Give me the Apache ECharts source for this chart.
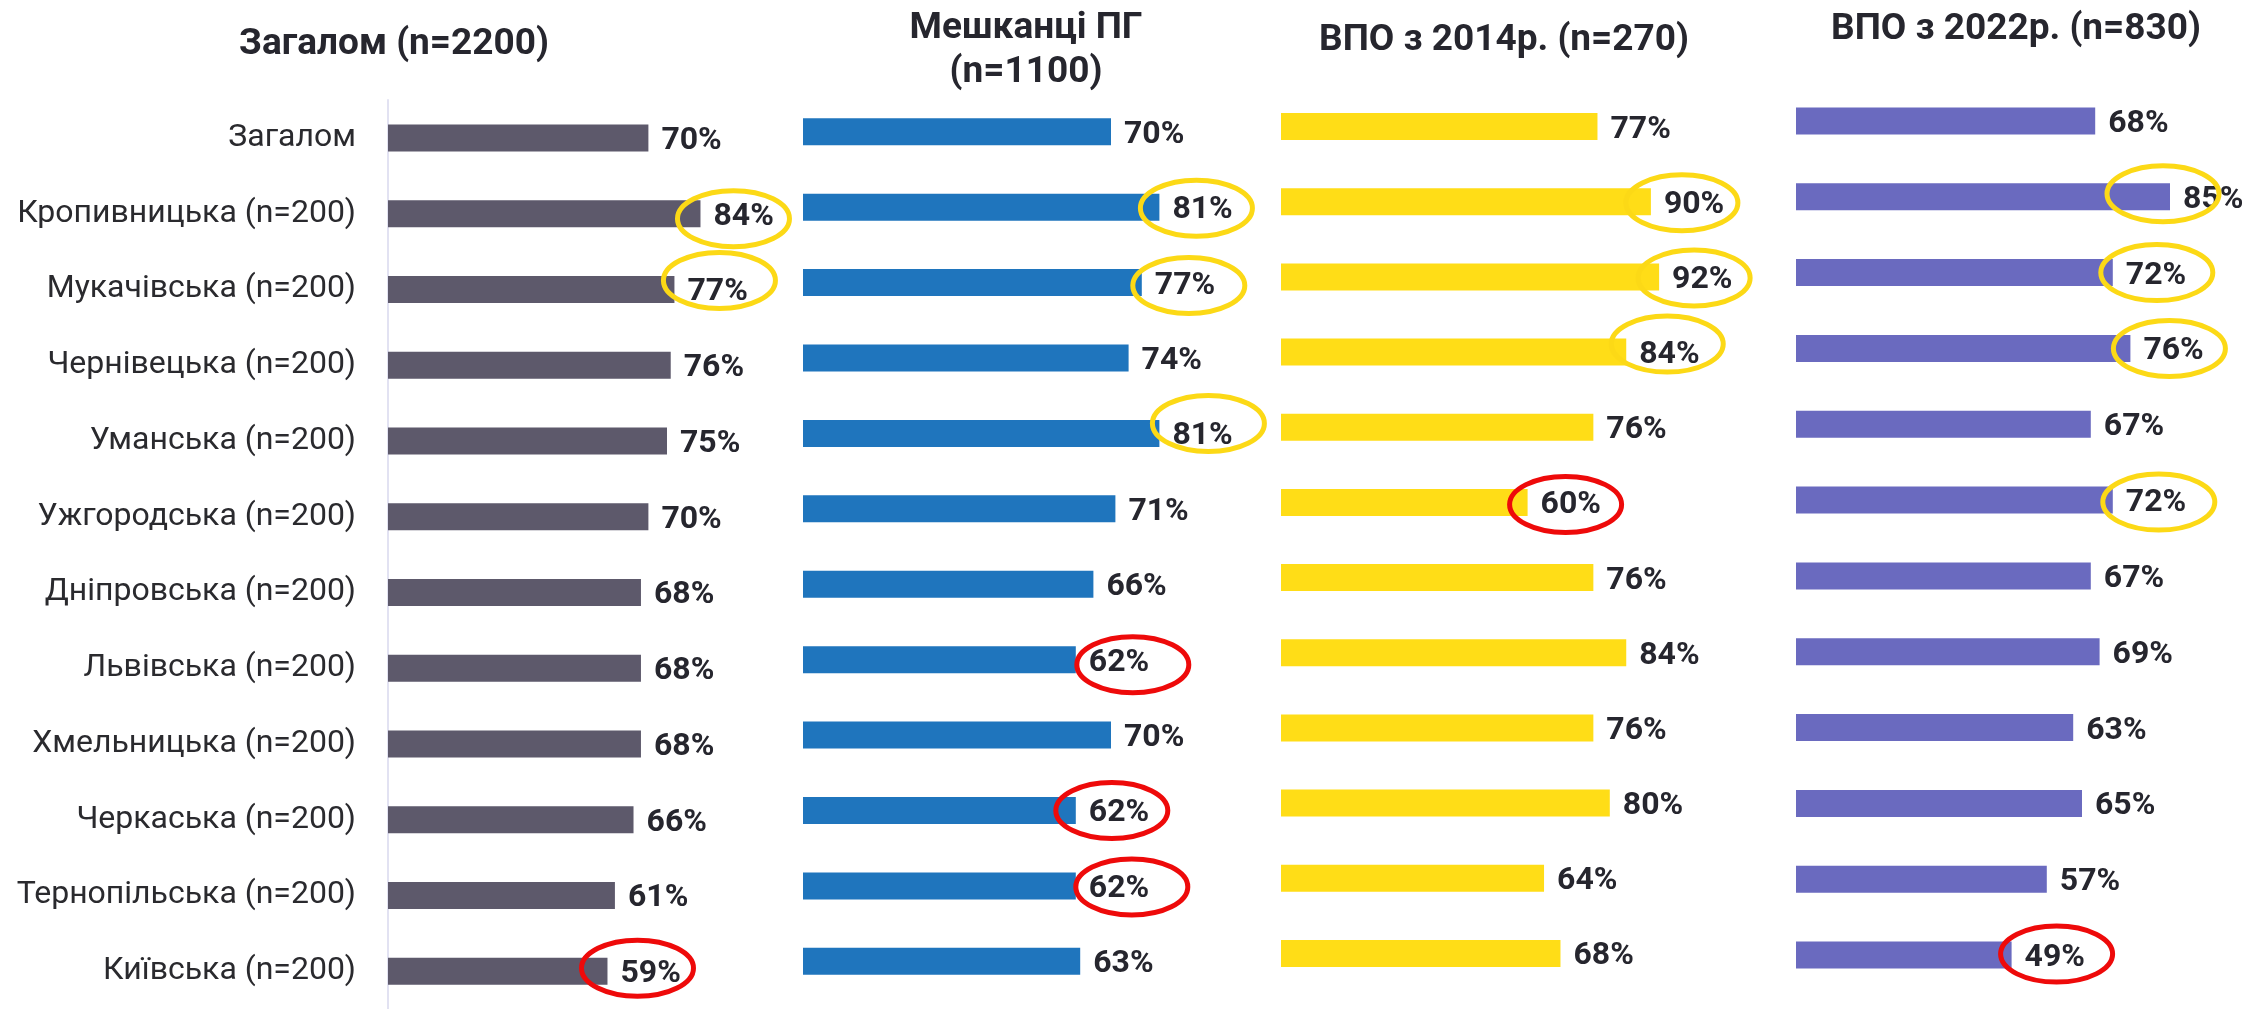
<!DOCTYPE html>
<html>
<head>
<meta charset="utf-8">
<script src="https://cdn.jsdelivr.net/npm/echarts@6/dist/echarts.min.js"></script>
<style>
  html, body { margin: 0; padding: 0; background: #fff; }
  #chart { width: 2267px; height: 1009px; }
</style>
</head>
<body>
<div id="chart"></div>
<script>
const categories = [
  'Загалом',
  'Кропивницька (n=200)',
  'Мукачівська (n=200)',
  'Чернівецька (n=200)',
  'Уманська (n=200)',
  'Ужгородська (n=200)',
  'Дніпровська (n=200)',
  'Львівська (n=200)',
  'Хмельницька (n=200)',
  'Черкаська (n=200)',
  'Тернопільська (n=200)',
  'Київська (n=200)'
];

const titles = ['Загалом (n=2200)', 'Мешканці ПГ\n(n=1100)', 'ВПО з 2014р. (n=270)', 'ВПО з 2022р. (n=830)'];

const totalValues = [70, 84, 77, 76, 75, 70, 68, 68, 68, 66, 61, 59];
const residentValues = [70, 81, 77, 74, 81, 71, 66, 62, 70, 62, 62, 63];
const idp2014Values = [77, 90, 92, 84, 76, 60, 76, 84, 76, 80, 64, 68];
const idp2022Values = [68, 85, 72, 76, 67, 72, 67, 69, 63, 65, 57, 49];

// обведені значення: [рядок, 'y' жовтий / 'r' червоний]
const totalMarks = [[1, 'y'], [2, 'y'], [11, 'r']];
const residentMarks = [[1, 'y'], [2, 'y'], [4, 'y'], [7, 'r'], [9, 'r'], [10, 'r']];
const idp2014Marks = [[1, 'y'], [2, 'y'], [3, 'y'], [5, 'r']];
const idp2022Marks = [[1, 'y'], [2, 'y'], [3, 'y'], [5, 'y'], [11, 'r']];

// layout only: panel boxes, title anchors, ellipse nudges
const panels = [
  { left: 388, width: 372, top: 100, bottom: 0, color: '#5d596b', titleX: 394, titleTop: 23, values: totalValues, marks: totalMarks,
    nudge: { 1: [33, 5], 2: [45, -9], 11: [30, -3] } },
  { left: 803, width: 440, top: 94, bottom: 10, color: '#1f75bd', titleX: 1026, titleTop: 7, values: residentValues, marks: residentMarks,
    nudge: { 1: [37, 1], 2: [47, 3], 4: [49, -10], 7: [57, 5], 9: [36, 0], 10: [56, 1] } },
  { left: 1281, width: 411, top: 89, bottom: 18, color: '#ffdd17', titleX: 1504, titleTop: 19, values: idp2014Values, marks: idp2014Marks,
    nudge: { 1: [31, 1], 2: [35, 1], 3: [41, -8], 5: [38, 2] } },
  { left: 1796, width: 440, top: 83, bottom: 16, color: '#6a6abf', titleX: 2016, titleTop: 8, values: idp2022Values, marks: idp2022Marks,
    nudge: { 1: [-7, -3], 2: [44, 0], 3: [39, 0], 5: [46, 2], 11: [45, -1] } }
];

const markColors = { y: '#fcd916', r: '#ee0a0a' };
const textColor = '#26262e';

const chart = echarts.init(document.getElementById('chart'));

const option = {
  backgroundColor: '#fff',
  animation: false,
  title: [],
  grid: [],
  xAxis: [],
  yAxis: [],
  series: []
};

panels.forEach((p, i) => {
  option.title.push({
    text: titles[i],
    left: p.titleX,
    top: p.titleTop,
    textAlign: 'center',
    padding: 0,
    textStyle: {
      fontFamily: 'Roboto',
      fontWeight: 'bold',
      fontSize: 37,
      lineHeight: 44,
      color: textColor
    }
  });

  option.grid.push({ left: p.left, width: p.width, top: p.top, bottom: p.bottom });

  option.xAxis.push({
    type: 'value',
    gridIndex: i,
    min: 0,
    max: 100,
    show: false
  });

  option.yAxis.push({
    type: 'category',
    gridIndex: i,
    inverse: true,
    data: categories,
    axisTick: { show: false },
    splitLine: { show: false },
    axisLine: { show: i === 0, lineStyle: { color: '#e2e2f2', width: 2 } },
    axisLabel: {
      show: i === 0,
      margin: 32,
      fontFamily: 'Roboto',
      fontSize: 32,
      color: '#2a2a2e'
    }
  });

  option.series.push({
    type: 'bar',
    xAxisIndex: i,
    yAxisIndex: i,
    data: p.values,
    barWidth: 27,
    itemStyle: { color: p.color },
    label: {
      show: true,
      position: 'right',
      distance: 13,
      offset: [0, 3],
      formatter: '{c}%',
      fontFamily: 'Roboto',
      fontWeight: 'bold',
      fontSize: 32,
      color: textColor
    }
  });

  option.series.push({
    type: 'custom',
    xAxisIndex: i,
    yAxisIndex: i,
    z: 5,
    silent: true,
    data: p.marks.map((m) => [p.values[m[0]], m[0], m[1]]),
    renderItem: (params, api) => {
      const row = api.value(1);
      const pt = api.coord([api.value(0), row]);
      const n = p.nudge[row] || [40, 0];
      const kind = p.marks[params.dataIndex][1];
      return {
        type: 'ellipse',
        shape: { cx: pt[0] + n[0], cy: pt[1] + n[1], rx: 56, ry: 28 },
        style: { fill: 'none', stroke: markColors[kind], lineWidth: 5 }
      };
    }
  });
});

chart.setOption(option);
</script>
</body>
</html>
